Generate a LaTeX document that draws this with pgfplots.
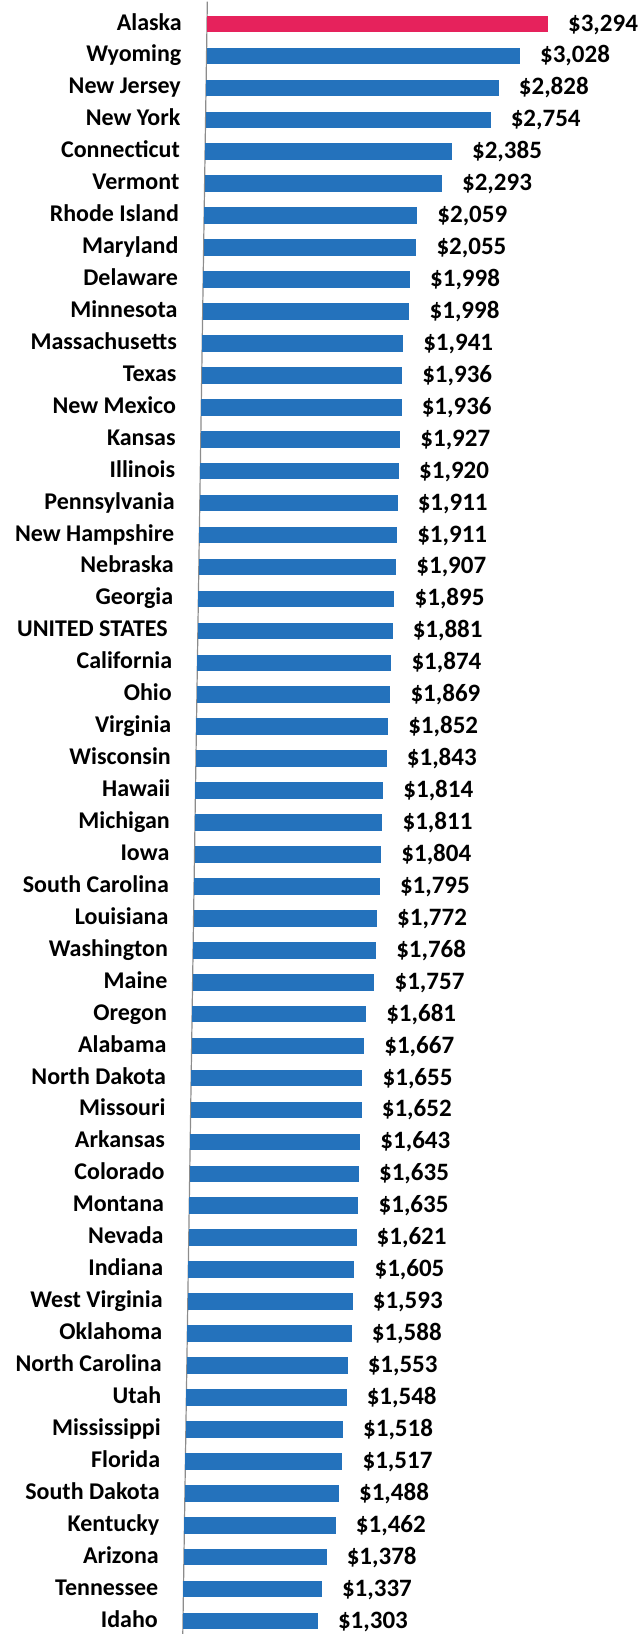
\documentclass[border=0pt]{standalone}
\usepackage{pgfplots}
\usepackage{pgfplotstable}
\pgfplotsset{compat=1.18}
\usepackage{fontspec}
\setmainfont{Carlito}
\definecolor{barblue}{RGB}{36,114,188}
\definecolor{barred}{RGB}{230,34,92}
\pgfplotstableread{
y v
0 3294
1 3028
2 2828
3 2754
4 2385
5 2293
6 2059
7 2055
8 1998
9 1998
10 1941
11 1936
12 1936
13 1927
14 1920
15 1911
16 1911
17 1907
18 1895
19 1881
20 1874
21 1869
22 1852
23 1843
24 1814
25 1811
26 1804
27 1795
28 1772
29 1768
30 1757
31 1681
32 1667
33 1655
34 1652
35 1643
36 1635
37 1635
38 1621
39 1605
40 1593
41 1588
42 1553
43 1548
44 1518
45 1517
46 1488
47 1462
48 1378
49 1337
50 1303
}\costdata
\begin{document}
\begin{tikzpicture}
\useasboundingbox (0,0) rectangle (642pt,1634pt);
\begin{axis}[
  at={(207pt,1610pt)}, anchor=origin,
  x={(0.1035pt,0pt)}, y={(-0.48pt,-31.94pt)},
  xmin=0, xmax=3400, ymin=-0.7, ymax=50.7,
  hide x axis,
  axis y line*=left,
  axis line style={draw=black!45, line width=1.2pt},
  ytick={0,...,50},
  yticklabels={Alaska,Wyoming,New Jersey,New York,Connecticut,Vermont,Rhode Island,Maryland,Delaware,Minnesota,Massachusetts,Texas,New Mexico,Kansas,Illinois,Pennsylvania,New Hampshire,Nebraska,Georgia,{UNITED STATES\hspace*{5pt}},California,Ohio,Virginia,Wisconsin,Hawaii,Michigan,Iowa,South Carolina,Louisiana,Washington,Maine,Oregon,Alabama,North Dakota,Missouri,Arkansas,Colorado,Montana,Nevada,Indiana,West Virginia,Oklahoma,North Carolina,Utah,Mississippi,Florida,South Dakota,Kentucky,Arizona,Tennessee,Idaho},
  major tick length=0pt,
  yticklabel style={font=\fontsize{24}{28}\selectfont\bfseries, anchor=base east, inner sep=0pt, xshift=-25pt, yshift=-6pt},
  clip=false,
]
\addplot[draw=none, mark=none, restrict y to domain=0:0,
  error bars/.cd, x dir=plus, x explicit, error mark=none,
  error bar style={draw=barred, line width=16.6pt}]
  table[x expr=0, y=y, x error=v] {\costdata};
\addplot[draw=none, mark=none, restrict y to domain=1:50,
  error bars/.cd, x dir=plus, x explicit, error mark=none,
  error bar style={draw=barblue, line width=16.6pt}]
  table[x expr=0, y=y, x error=v] {\costdata};
\addplot[draw=none, mark=none, point meta=x,
  nodes near coords={\$\pgfmathprintnumber[assume math mode=true,1000 sep={,},fixed,precision=0]{\pgfplotspointmeta}},
  every node near coord/.append style={font=\fontsize{25}{30}\selectfont\bfseries, anchor=base west, inner sep=0pt, xshift=20pt, yshift=-7pt, text=black}]
  table[x=v, y=y] {\costdata};
\end{axis}
\end{tikzpicture}
\end{document}
